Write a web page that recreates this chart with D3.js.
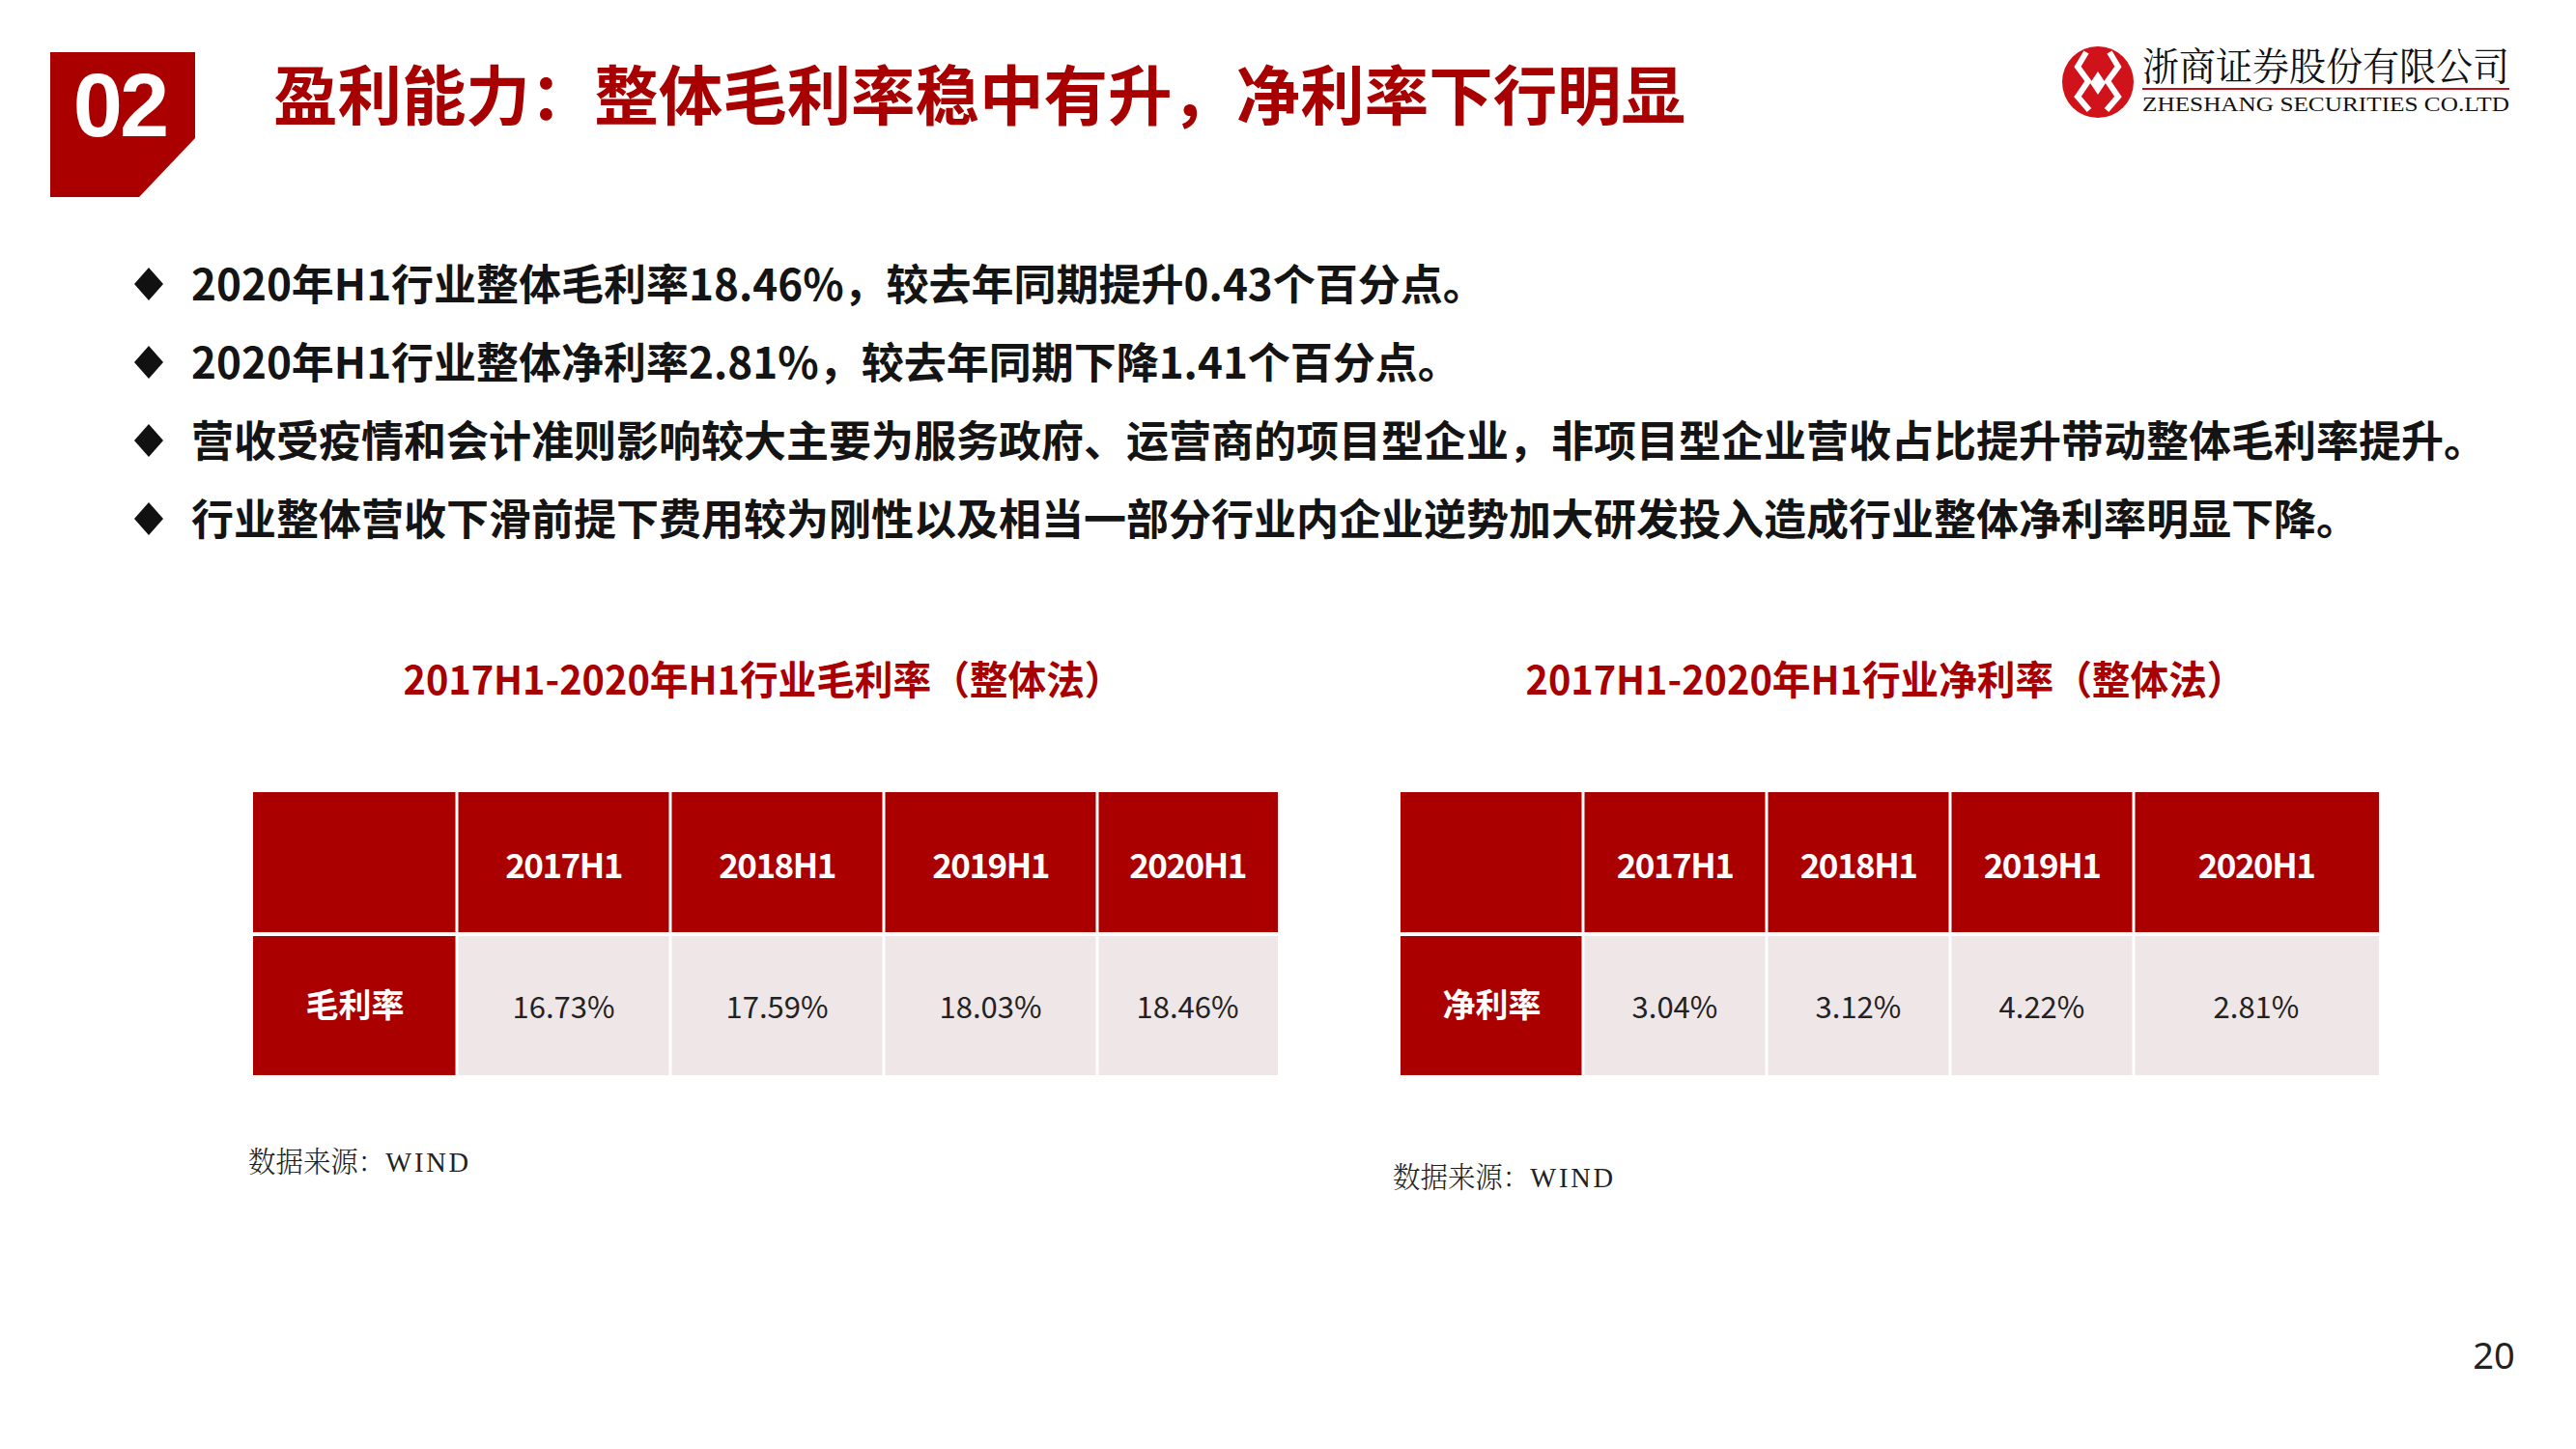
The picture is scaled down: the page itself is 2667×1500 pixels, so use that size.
<!DOCTYPE html>
<html>
<head>
<meta charset="utf-8">
<script src="https://cdn.jsdelivr.net/npm/d3@7"></script>
<style>
  html, body { margin: 0; padding: 0; background: #ffffff; }
  svg { display: block; }
</style>
</head>
<body>
<div id="chart"></div>
<script>
// ---------------- DATA ----------------
const slideNumber = "02";
const slideTitle = "盈利能力：整体毛利率稳中有升，净利率下行明显";
const companyCN = "浙商证券股份有限公司";
const companyEN = "ZHESHANG SECURITIES CO.LTD";
const bullets = [
  "2020年H1行业整体毛利率18.46%，较去年同期提升0.43个百分点。",
  "2020年H1行业整体净利率2.81%，较去年同期下降1.41个百分点。",
  "营收受疫情和会计准则影响较大主要为服务政府、运营商的项目型企业，非项目型企业营收占比提升带动整体毛利率提升。",
  "行业整体营收下滑前提下费用较为刚性以及相当一部分行业内企业逆势加大研发投入造成行业整体净利率明显下降。"
];
const periods = ["2017H1", "2018H1", "2019H1", "2020H1"];
const grossMargin = [16.73, 17.59, 18.03, 18.46];
const netMargin = [3.04, 3.12, 4.22, 2.81];
const grossTitle = "2017H1-2020年H1行业毛利率（整体法）";
const netTitle = "2017H1-2020年H1行业净利率（整体法）";
const grossLabel = "毛利率";
const netLabel = "净利率";
const sourceLabel = "数据来源：";
const sourceName = "WIND";
const pageNumber = "20";

// ---------------- LAYOUT ----------------
const W = 2667, H = 1500;
const RED = "#AA0000";
const TITLE_RED = "#A80000";
const CELL_BG = "#EFE6E7";
const CJK = '"Noto Sans CJK SC", "Noto Sans", sans-serif';

const svg = d3.select("#chart").append("svg")
  .attr("width", W).attr("height", H)
  .attr("viewBox", `0 0 ${W} ${H}`);
svg.append("rect").attr("width", W).attr("height", H).attr("fill", "#fff");

// baseline helper: centre y -> baseline
const bl = (cy, fs) => cy + 0.36 * fs;

// ---- header badge ----
svg.append("path")
  .attr("d", "M52,54 H202 V143 L144,204 H52 Z")
  .attr("fill", RED);
svg.append("text")
  .attr("x", 124).attr("y", 141)
  .attr("text-anchor", "middle")
  .attr("font-family", '"Liberation Sans", Arial, sans-serif')
  .attr("font-weight", 700).attr("font-size", 92)
  .attr("letter-spacing", -3)
  .attr("fill", "#fff")
  .text(slideNumber);

svg.append("text")
  .attr("x", 283).attr("y", bl(99, 67) + 1)
  .attr("font-family", CJK).attr("font-weight", 700).attr("font-size", 67)
  .attr("fill", TITLE_RED)
  .attr("textLength", 1462).attr("lengthAdjust", "spacingAndGlyphs")
  .text(slideTitle);

// ---- logo ----
const logo = svg.append("g");
logo.append("circle").attr("cx", 2172).attr("cy", 85).attr("r", 37).attr("fill", "#D0121B");
const logoPaths = [
  "M2160,54 L2151,69 L2162,84 L2151,100 L2163,114",
  "M2184,54 L2193,69 L2182,84 L2193,100 L2181,114"
];
logo.selectAll("path.lg").data(logoPaths).join("path")
  .attr("class", "lg")
  .attr("d", d => d).attr("fill", "none")
  .attr("stroke", "#fff").attr("stroke-width", 6).attr("stroke-linejoin", "miter");
logo.append("path").attr("d", "M2172,74 L2180,86 L2172,98 L2164,86 Z").attr("fill", "#fff");
svg.append("text")
  .attr("x", 2218).attr("y", 83)
  .attr("font-family", '"Noto Serif CJK SC", "Noto Sans CJK SC", serif')
  .attr("font-size", 40).attr("fill", "#111")
  .attr("textLength", 380).attr("lengthAdjust", "spacingAndGlyphs")
  .text(companyCN);
svg.append("line")
  .attr("x1", 2218).attr("x2", 2598).attr("y1", 92).attr("y2", 92)
  .attr("stroke", "#C0101A").attr("stroke-width", 2);
svg.append("text")
  .attr("x", 2218).attr("y", 115)
  .attr("font-family", '"Liberation Serif", "Times New Roman", serif')
  .attr("font-size", 21).attr("fill", "#111")
  .attr("textLength", 380).attr("lengthAdjust", "spacingAndGlyphs")
  .text(companyEN);

// ---- bullets ----
const bulletY = d3.scalePoint().domain(d3.range(bullets.length)).range([294, 537]);
const bg = svg.append("g").selectAll("g").data(bullets).join("g")
  .attr("transform", (d, i) => `translate(0,${bulletY(i)})`);
bg.append("path")
  .attr("d", "M154,-17 L169,0 L154,17 L139,0 Z")
  .attr("fill", "#111");
bg.append("text")
  .attr("x", 198).attr("y", bl(0, 44) + 1)
  .attr("font-family", CJK).attr("font-weight", 700).attr("font-size", 44)
  .attr("fill", "#141414")
  .text(d => d);

// ---- tables ----
const fmt = v => d3.format(".2f")(v) + "%";

function drawTable(cfg) {
  const g = svg.append("g");
  // column boundaries via a linear scale over cumulative column weights
  const cum = [0].concat(Array.from(d3.cumsum(cfg.weights)));
  const xs = d3.scaleLinear().domain([0, cum[cum.length - 1]]).range([cfg.x0, cfg.x1]);
  const cols = d3.range(cfg.weights.length).map(i => ({ x0: xs(cum[i]), x1: xs(cum[i + 1]) }));
  const gap = 1.5;
  const head = [820, 966.5], body = [967.5, 1113];
  const n = cols.length;

  // title
  g.append("text")
    .attr("x", cfg.titleX).attr("y", bl(704, 41))
    .attr("text-anchor", "middle")
    .attr("font-family", CJK).attr("font-weight", 700).attr("font-size", 41)
    .attr("fill", TITLE_RED)
    .attr("textLength", 745).attr("lengthAdjust", "spacingAndGlyphs")
    .text(cfg.title);

  const headCells = [""].concat(cfg.periods);
  const bodyCells = [{ label: cfg.label }].concat(cfg.values.map(v => ({ value: v })));

  const cellX = i => cols[i].x0 + (i > 0 ? gap : 0);
  const cellW = i => cols[i].x1 - cols[i].x0 - (i > 0 ? gap : 0) - (i < n - 1 ? gap : 0);

  // header row
  g.selectAll("rect.h").data(headCells).join("rect")
    .attr("class", "h")
    .attr("x", (d, i) => cellX(i))
    .attr("width", (d, i) => cellW(i))
    .attr("y", head[0]).attr("height", head[1] - head[0] - gap)
    .attr("fill", RED);
  g.selectAll("text.h").data(headCells).join("text")
    .attr("class", "h")
    .attr("x", (d, i) => (cols[i].x0 + cols[i].x1) / 2)
    .attr("y", bl(896, 35))
    .attr("text-anchor", "middle")
    .attr("font-family", CJK).attr("font-weight", 700).attr("font-size", 35)
    .attr("letter-spacing", -1.5)
    .attr("fill", "#fff")
    .text(d => d);

  // body row
  g.selectAll("rect.b").data(bodyCells).join("rect")
    .attr("class", "b")
    .attr("x", (d, i) => cellX(i))
    .attr("width", (d, i) => cellW(i))
    .attr("y", body[0] + gap).attr("height", body[1] - body[0] - gap)
    .attr("fill", (d, i) => i === 0 ? RED : CELL_BG);
  g.selectAll("text.b").data(bodyCells).join("text")
    .attr("class", "b")
    .attr("x", (d, i) => (cols[i].x0 + cols[i].x1) / 2)
    .attr("y", d => d.label ? bl(1040, 34) + 1 : bl(1042, 31) + 1)
    .attr("text-anchor", "middle")
    .attr("font-family", CJK)
    .attr("font-weight", d => d.label ? 700 : 400)
    .attr("font-size", d => d.label ? 34 : 31)
    .attr("fill", d => d.label ? "#fff" : "#222")
    .text(d => d.label ? d.label : fmt(d.value));

  // source
  const s = g.append("text")
    .attr("x", cfg.srcX).attr("y", bl(cfg.srcY, 30))
    .attr("font-size", 30).attr("fill", "#222")
    .attr("textLength", 231).attr("lengthAdjust", "spacingAndGlyphs");
  s.append("tspan")
    .attr("font-family", '"Noto Serif CJK SC", "Noto Sans CJK SC", serif')
    .attr("font-weight", 300)
    .text(sourceLabel);
  s.append("tspan")
    .attr("font-family", '"Liberation Serif", "DejaVu Serif", serif')
    .attr("letter-spacing", 3)
    .text(sourceName);
}

drawTable({
  x0: 262, x1: 1323, weights: [211, 221, 221, 221, 187],
  periods, values: grossMargin, label: grossLabel, title: grossTitle,
  titleX: 790, srcX: 257, srcY: 1202
});
drawTable({
  x0: 1450, x1: 2463, weights: [189, 190, 190, 190, 254],
  periods, values: netMargin, label: netLabel, title: netTitle,
  titleX: 1952, srcX: 1442, srcY: 1218
});

// ---- page number ----
svg.append("text")
  .attr("x", 2582).attr("y", bl(1403, 38))
  .attr("text-anchor", "middle")
  .attr("font-family", '"Noto Sans", "DejaVu Sans", sans-serif')
  .attr("font-size", 38).attr("fill", "#222")
  .text(pageNumber);
</script>
</body>
</html>
